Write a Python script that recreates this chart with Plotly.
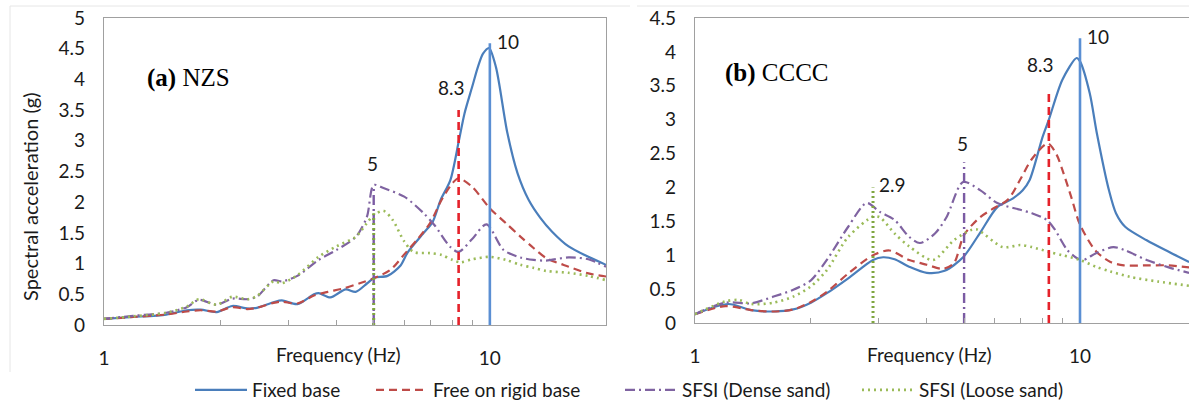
import math
import plotly.graph_objects as go

# ---------------- data ----------------
# (a) NZS
a_fixed_f = [1.0, 1.19, 1.45, 1.64, 1.78, 1.96, 2.15, 2.35, 2.49, 2.75, 2.89, 3.17, 3.5, 3.6, 3.86, 4.23, 4.49, 4.81,
             5.02, 5.43, 5.87, 6.12, 6.74, 7.11, 7.46, 7.9, 8.3, 8.6, 9.0, 9.31, 9.6, 9.95, 10.37, 11.1, 11.8, 12.6,
             13.5, 14.5, 16, 18, 20]
a_fixed_v = [0.10, 0.13, 0.17, 0.24, 0.25, 0.21, 0.31, 0.27, 0.28, 0.37, 0.40, 0.34, 0.50, 0.52, 0.45, 0.58, 0.54, 0.68,
             0.77, 0.80, 0.97, 1.18, 1.50, 1.68, 2.04, 2.36, 2.98, 3.45, 3.88, 4.20, 4.42, 4.51, 4.20, 3.13, 2.47, 2.04,
             1.75, 1.52, 1.28, 1.11, 0.98]

a_rigid_f = [1.0, 1.19, 1.45, 1.64, 1.78, 1.96, 2.15, 2.35, 2.49, 2.75, 2.89, 3.17, 3.5, 3.8, 4.2, 4.6, 5.0, 5.53,
             6.0, 6.5, 7.0, 7.5, 8.0, 8.3, 9.0, 10, 11, 12, 13, 14, 16, 18, 20]
a_rigid_v = [0.10, 0.13, 0.17, 0.22, 0.24, 0.22, 0.29, 0.26, 0.28, 0.36, 0.38, 0.35, 0.48, 0.54, 0.60, 0.68, 0.76, 0.90,
             1.15, 1.40, 1.66, 2.04, 2.31, 2.39, 2.25, 1.90, 1.66, 1.44, 1.25, 1.09, 0.95, 0.84, 0.79]

a_dense_f = [1.0, 1.19, 1.45, 1.64, 1.76, 1.96, 2.15, 2.35, 2.49, 2.75, 2.89, 3.17, 3.6, 4.0, 4.5, 4.8, 5.0, 5.3,
             6.0, 6.74, 7.2, 7.9, 8.3, 9.0, 9.8, 10.86, 12, 13, 14, 16, 18, 20]
a_dense_v = [0.10, 0.15, 0.20, 0.29, 0.41, 0.33, 0.43, 0.42, 0.46, 0.73, 0.71, 0.80, 1.06, 1.22, 1.44, 1.76, 2.28, 2.23,
             2.09, 1.82, 1.62, 1.27, 1.19, 1.40, 1.64, 1.22, 1.10, 1.06, 1.05, 1.10, 1.07, 0.95]

a_loose_f = [1.0, 1.19, 1.45, 1.64, 1.76, 1.96, 2.15, 2.35, 2.49, 2.75, 2.89, 3.17, 3.6, 4.0, 4.5, 4.8, 5.0, 5.3,
             5.6, 6.0, 6.34, 7.0, 7.5, 8.0, 8.4, 9.0, 10, 11, 12, 13, 14, 16, 18, 20]
a_loose_v = [0.10, 0.14, 0.20, 0.30, 0.42, 0.33, 0.46, 0.42, 0.47, 0.71, 0.68, 0.81, 1.11, 1.28, 1.44, 1.66, 1.79, 1.86,
             1.71, 1.36, 1.19, 1.17, 1.14, 1.06, 1.02, 1.07, 1.11, 1.06, 0.98, 0.93, 0.88, 0.85, 0.80, 0.73]

# (b) CCCC
b_fixed_f = [1.0, 1.22, 1.4, 1.6, 1.8, 2.0, 2.2, 2.5, 2.9, 3.08, 3.3, 3.6, 4.0, 4.45, 4.97, 5.5, 6.1, 6.7, 7.1, 7.4,
             8.0, 8.3, 9.0, 9.8, 10.0, 10.6, 11.06, 11.9, 12.4, 13.1, 14.9, 17, 19.2]
b_fixed_v = [0.13, 0.28, 0.19, 0.17, 0.20, 0.30, 0.44, 0.66, 0.93, 0.97, 0.94, 0.83, 0.74, 0.77, 0.97, 1.33, 1.71, 1.84,
             1.96, 2.11, 2.75, 3.00, 3.59, 3.91, 3.86, 3.39, 2.80, 1.95, 1.62, 1.42, 1.22, 1.05, 0.90]

b_rigid_f = [1.0, 1.2, 1.4, 1.6, 1.8, 2.0, 2.2, 2.5, 2.9, 3.2, 3.6, 4.0, 4.4, 4.7, 5.0, 5.5, 6.0, 6.5, 7.0, 7.5, 8.25,
             8.7, 9.0, 9.5, 10, 11, 12, 13, 15, 17, 19.2]
b_rigid_v = [0.13, 0.25, 0.19, 0.17, 0.20, 0.31, 0.46, 0.73, 1.00, 1.07, 0.93, 0.86, 0.80, 0.88, 1.30, 1.56, 1.70, 1.82,
             2.12, 2.42, 2.65, 2.48, 2.26, 1.85, 1.45, 1.06, 0.90, 0.85, 0.85, 0.85, 0.82]

b_dense_f = [1.0, 1.2, 1.4, 1.6, 1.8, 2.0, 2.2, 2.5, 2.79, 3.02, 3.3, 3.6, 3.84, 4.2, 4.5, 4.97, 5.5, 6.1, 7.0, 7.5,
             8.2, 8.6, 9.26, 9.8, 10.2, 11, 12.2, 13, 14.9, 17, 19.2]
b_dense_v = [0.13, 0.30, 0.29, 0.39, 0.49, 0.63, 0.93, 1.42, 1.77, 1.64, 1.52, 1.27, 1.18, 1.32, 1.56, 2.08, 1.96, 1.77,
             1.67, 1.62, 1.52, 1.38, 1.08, 0.96, 0.93, 1.03, 1.12, 1.08, 0.93, 0.82, 0.74]

b_loose_f = [1.0, 1.2, 1.3, 1.4, 1.6, 1.8, 2.0, 2.2, 2.5, 2.9, 3.02, 3.3, 3.6, 4.15, 4.7, 5.2, 5.4, 6.3, 7.0, 7.5, 8.3,
             9.0, 10, 11, 12, 13.5, 16, 19.2]
b_loose_v = [0.13, 0.32, 0.34, 0.28, 0.30, 0.39, 0.54, 0.78, 1.27, 1.57, 1.56, 1.32, 1.13, 0.93, 1.22, 1.37, 1.38, 1.12,
             1.15, 1.12, 1.05, 1.00, 0.93, 0.83, 0.76, 0.68, 0.61, 0.55]

# peak-frequency markers: frequency and height of each vertical line
a_peak_f = [5, 5, 8.3, 10]
a_peak_h = [2.28, 1.82, 3.5, 4.59]
b_peak_f = [2.9, 5, 8.3, 10]
b_peak_h = [2.0, 2.37, 3.45, 4.2]

series_names = ["Fixed base", "Free on rigid base", "SFSI (Dense sand)", "SFSI (Loose sand)"]
panel_titles = ["<b>(a)</b> NZS", "<b>(b)</b> CCCC"]

# ---------------- styles ----------------
curve_styles = [
    dict(color="#4A7EBB", width=2.2, dash="solid"),
    dict(color="#BE4B48", width=2.2, dash="8px,5px"),
    dict(color="#7F63A1", width=2.2, dash="10px,4px,2px,4px"),
    dict(color="#9BBB59", width=2.6, dash="2px,4px"),
]
vline_styles = {
    "fixed": dict(color="#5B8FD3", width=2.6, dash="solid"),
    "rigid": dict(color="#E5222B", width=2.6, dash="8px,5px"),
    "dense": dict(color="#7B5BA3", width=2.4, dash="10px,4px,2px,4px"),
    "loose": dict(color="#7FA640", width=3.0, dash="2px,3px"),
}
FONT = "Lato, 'Open Sans', sans-serif"
TXT = "#1a1a1a"

fig = go.Figure()

panels = [
    ("x", "y", [(a_fixed_f, a_fixed_v), (a_rigid_f, a_rigid_v), (a_dense_f, a_dense_v), (a_loose_f, a_loose_v)]),
    ("x2", "y2", [(b_fixed_f, b_fixed_v), (b_rigid_f, b_rigid_v), (b_dense_f, b_dense_v), (b_loose_f, b_loose_v)]),
]
legends = ["legend", "legend2", "legend3", "legend4"]
for pi, (xa, ya, curves) in enumerate(panels):
    for si, (f, v) in enumerate(curves):
        fig.add_trace(go.Scatter(
            x=f, y=v, mode="lines", xaxis=xa, yaxis=ya, name=series_names[si],
            line=dict(shape="spline", smoothing=0.8, **curve_styles[si]),
            showlegend=(pi == 0), legend=legends[si], hoverinfo="skip"))

# vertical peak lines
a_kinds = ["dense", "loose", "rigid", "fixed"]
b_kinds = ["loose", "dense", "rigid", "fixed"]
for xa, ya, pf, ph, kinds in [("x", "y", a_peak_f, a_peak_h, a_kinds), ("x2", "y2", b_peak_f, b_peak_h, b_kinds)]:
    for f, h, k in zip(pf, ph, kinds):
        fig.add_trace(go.Scatter(x=[f, f], y=[0, h], mode="lines", xaxis=xa, yaxis=ya,
                                 line=vline_styles[k], showlegend=False, hoverinfo="skip"))

# peak labels
label_font = dict(family=FONT, size=19, color=TXT)
a_lab = [  # (freq, height, xanchor, yanchor, xshift, yshift)
    (a_peak_f[0], a_peak_h[0], "center", "bottom", -1, 8),
    (a_peak_f[2], a_peak_h[2], "center", "bottom", -7, 9),
    (a_peak_f[3], a_peak_h[3], "left", "middle", 5, 2),
]
b_lab = [
    (b_peak_f[0], b_peak_h[0], "left", "middle", 4, 3),
    (b_peak_f[1], b_peak_h[1], "center", "bottom", -2, 5),
    (b_peak_f[2], b_peak_h[2], "center", "bottom", -8, 11),
    (b_peak_f[3], b_peak_h[3], "left", "middle", 5, 2),
]
for xa, ya, labs in [("x", "y", a_lab), ("x2", "y2", b_lab)]:
    for f, h, xan, yan, xs, ys in labs:
        fig.add_annotation(x=math.log10(f), y=h, xref=xa, yref=ya, text=f"{f:g}", showarrow=False,
                           xanchor=xan, yanchor=yan, xshift=xs, yshift=ys, font=label_font)

W, H = 1189, 404
# panel titles
fig.add_annotation(x=145 / W, y=1 - 78 / H, xref="paper", yref="paper", text=panel_titles[0], showarrow=False,
                   xanchor="left", yanchor="middle", font=dict(family="Liberation Serif, serif", size=25, color="#000"))
fig.add_annotation(x=723 / W, y=1 - 73 / H, xref="paper", yref="paper", text=panel_titles[1], showarrow=False,
                   xanchor="left", yanchor="middle", font=dict(family="Liberation Serif, serif", size=25, color="#000"))

# axis titles
axis_font = dict(family=FONT, size=19, color=TXT)
fig.add_annotation(x=338 / W, y=1 - 354 / H, xref="paper", yref="paper", text="Frequency (Hz)", showarrow=False,
                   xanchor="center", yanchor="middle", font=axis_font)
fig.add_annotation(x=929 / W, y=1 - 354 / H, xref="paper", yref="paper", text="Frequency (Hz)", showarrow=False,
                   xanchor="center", yanchor="middle", font=axis_font)
fig.add_annotation(x=30 / W, y=1 - 197 / H, xref="paper", yref="paper", text="Spectral acceleration (g)",
                   showarrow=False, textangle=-90, xanchor="center", yanchor="middle",
                   font=dict(family=FONT, size=20, color=TXT))

# faint outer chart frames
frame = dict(color="#e6e6e6", width=1)
fig.add_shape(type="line", xref="paper", yref="paper", x0=10 / W, x1=630 / W, y0=1 - 6 / H, y1=1 - 6 / H, line=frame)
fig.add_shape(type="line", xref="paper", yref="paper", x0=10 / W, x1=10 / W, y0=1 - 6 / H, y1=1 - 372 / H, line=frame)
fig.add_shape(type="line", xref="paper", yref="paper", x0=637 / W, x1=1, y0=1 - 6 / H, y1=1 - 6 / H, line=frame)

tick_font = dict(family=FONT, size=19, color=TXT)
axcol = "#a0a0a0"
common_x = dict(type="log", showgrid=False, zeroline=False, showline=True, mirror=True, linecolor=axcol,
                linewidth=1.3, tickvals=[1, 10], ticktext=["1", "10"], ticks="", tickfont=tick_font,
                ticklabelstandoff=16, automargin=False,
                minor=dict(tickvals=[2, 3, 4, 5, 6, 7, 8, 9, 20], ticks="inside", ticklen=5, tickcolor=axcol,
                           tickwidth=1, showgrid=False))
common_y = dict(showgrid=False, zeroline=False, showline=True, mirror=True, linecolor=axcol, linewidth=1.3,
                ticks="", tickfont=tick_font, dtick=0.5, ticklabelstandoff=14, automargin=False)

fig.update_layout(
    width=W, height=H, margin=dict(l=0, r=0, t=0, b=0, autoexpand=False),
    paper_bgcolor="white", plot_bgcolor="white",
    xaxis=dict(domain=[104 / W, 606 / W], range=[0, math.log10(20)], anchor="y", **common_x),
    yaxis=dict(domain=[(H - 325) / H, (H - 18) / H], range=[0, 5], anchor="x", **common_y),
    xaxis2=dict(domain=[695 / W, 1.0], range=[0, (1189 - 695) / 385], anchor="y2", **common_x),
    yaxis2=dict(domain=[(H - 323) / H, (H - 18) / H], range=[0, 4.5], anchor="x2", **common_y),
)
leg_x = [190, 371, 620, 857]
for i, ln in enumerate(legends):
    fig.update_layout({ln: dict(x=leg_x[i] / W, y=1 - 390 / H, xanchor="left", yanchor="middle",
                                orientation="h", bgcolor="rgba(0,0,0,0)", borderwidth=0,
                                font=dict(family=FONT, size=19, color=TXT), itemwidth=52)})

fig.write_html("out.html", config={"displayModeBar": False},
               post_script="document.body.style.margin='0';document.body.style.overflow='hidden';")
